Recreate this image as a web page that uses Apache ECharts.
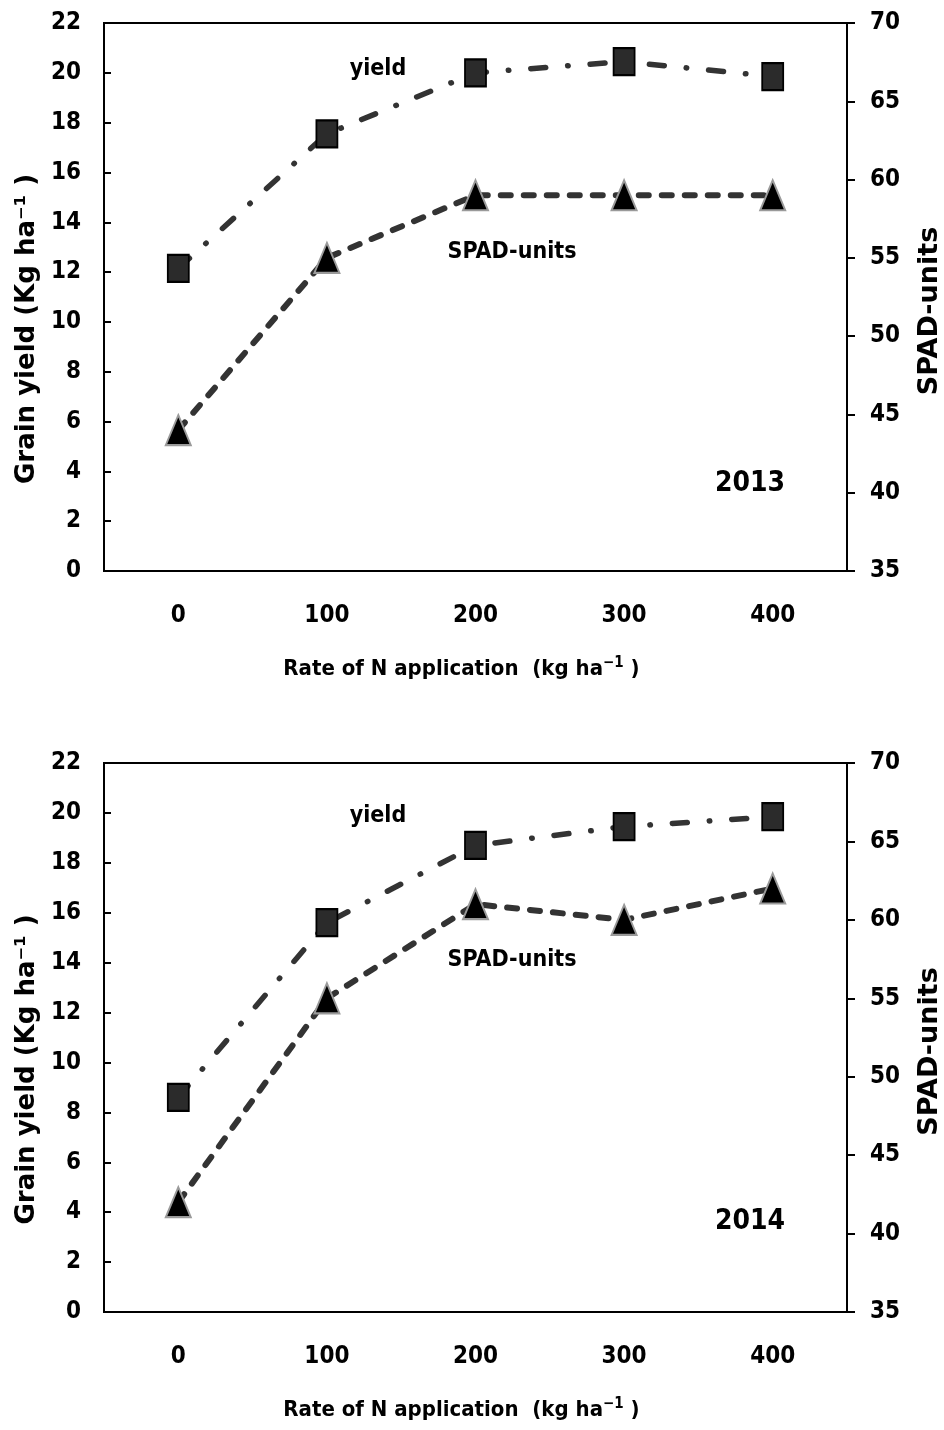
<!DOCTYPE html>
<html>
<head>
<meta charset="utf-8">
<script src="https://cdn.jsdelivr.net/npm/echarts@6/dist/echarts.min.js"></script>
<style>
  html, body { margin: 0; padding: 0; background: #fff; }
  #main { width: 944px; height: 1430px; }
</style>
</head>
<body>
<div id="main"></div>
<script>
// N rates (kg/ha)
var rates = ['0', '100', '200', '300', '400'];

// 2013
var yield2013 = [12.15, 17.55, 20.0, 20.45, 19.85];
var spad2013 = [44.0, 55.0, 59.0, 59.0, 59.0];

// 2014
var yield2014 = [8.6, 15.6, 18.7, 19.45, 19.85];
var spad2014 = [42.0, 55.0, 61.0, 60.0, 62.0];

var font = '"Liberation Sans Narrow", "DejaVu Sans Condensed", sans-serif';
var boldFont = '"DejaVu Sans", Verdana, sans-serif';
var lineColor = '#333';

var chart = echarts.init(document.getElementById('main'));

// one panel = grid + x axis + two y axes
var grids = [
  { left: 104, right: 97, top: 23, height: 548 },
  { left: 104, right: 97, top: 763, height: 549 }
];

function xAxisFor(i) {
  return {
    type: 'category', gridIndex: i, data: rates, boundaryGap: true,
    axisLine: { lineStyle: { color: '#000', width: 2 } },
    axisTick: { inside: true, alignWithLabel: true, length: 7, lineStyle: { color: '#000', width: 2 } },
    axisLabel: { margin: 33, color: '#000', fontFamily: font, fontSize: 24, fontWeight: 'bold' },
    name: '{a|Rate of N application  (kg ha}{s|−1}{a| )}',
    nameLocation: 'middle', nameGap: 85,
    nameTextStyle: {
      padding: [0, 28, 0, 0],
      rich: {
        a: { fontFamily: font, fontSize: 22, fontWeight: 'bold', color: '#000' },
        s: { fontFamily: font, fontSize: 15, fontWeight: 'bold', color: '#000', verticalAlign: 'top', padding: [0, 0, 11, 0] }
      }
    }
  };
}

function leftAxisFor(i) {
  return {
    type: 'value', gridIndex: i, position: 'left', min: 0, max: 22, interval: 2,
    axisLine: { show: true, lineStyle: { color: '#000', width: 2 } },
    axisTick: { show: true, inside: true, length: 7, lineStyle: { color: '#000', width: 2 } },
    splitLine: { show: false },
    axisLabel: { margin: 23, color: '#000', fontFamily: font, fontSize: 24, fontWeight: 'bold' },
    name: 'Grain yield (Kg ha⁻¹ )',
    nameLocation: 'middle', nameGap: 62, nameRotate: 90,
    nameTextStyle: { fontFamily: boldFont, fontWeight: 'bold', fontSize: 26, color: '#000', padding: [0, 64, 0, 0] }
  };
}

function rightAxisFor(i) {
  return {
    type: 'value', gridIndex: i, position: 'right', min: 35, max: 70, interval: 5,
    axisLine: { show: true, lineStyle: { color: '#000', width: 2 } },
    axisTick: { show: true, inside: false, length: 8, lineStyle: { color: '#000', width: 2 } },
    splitLine: { show: false },
    axisLabel: { margin: 23, color: '#000', fontFamily: font, fontSize: 24, fontWeight: 'bold' },
    name: 'SPAD-units',
    nameLocation: 'middle', nameGap: 69, nameRotate: 90,
    nameTextStyle: { fontFamily: boldFont, fontWeight: 'bold', fontSize: 27, color: '#000', padding: [0, 28, 0, 0] }
  };
}

function yieldSeries(i, data) {
  return {
    name: 'yield', type: 'line', xAxisIndex: i, yAxisIndex: i * 2, data: data,
    symbol: 'rect', symbolSize: [21, 27],
    itemStyle: { color: '#2b2b2b', borderColor: '#000', borderWidth: 2 },
    lineStyle: { color: lineColor, width: 5.5, type: [15, 22, 0.5, 22], cap: 'round' },
    z: 3
  };
}

function spadSeries(i, data) {
  return {
    name: 'SPAD-units', type: 'line', xAxisIndex: i, yAxisIndex: i * 2 + 1, data: data,
    symbol: 'triangle', symbolSize: [25, 30],
    itemStyle: { color: '#000', borderColor: '#9a9a9a', borderWidth: 2 },
    lineStyle: { color: lineColor, width: 6, type: [10, 13], cap: 'round' },
    z: 3
  };
}

function txt(x, y, s, size) {
  return {
    type: 'text', x: x, y: y,
    style: { text: s, fontFamily: font, fontSize: size, fontWeight: 'bold',
             fill: '#000', align: 'center', verticalAlign: 'middle' }
  };
}

chart.setOption({
  animation: false,
  backgroundColor: '#fff',
  grid: grids.map(function (g) {
    return Object.assign({
      show: true, borderColor: '#000', borderWidth: 2, backgroundColor: 'transparent',
      containLabel: false, outerBoundsMode: 'none'
    }, g);
  }),
  xAxis: [xAxisFor(0), xAxisFor(1)],
  yAxis: [leftAxisFor(0), rightAxisFor(0), leftAxisFor(1), rightAxisFor(1)],
  series: [
    yieldSeries(0, yield2013), spadSeries(0, spad2013),
    yieldSeries(1, yield2014), spadSeries(1, spad2014)
  ],
  graphic: [
    txt(378, 69, 'yield', 23),
    txt(512, 252, 'SPAD-units', 23),
    txt(750, 484, '2013', 28),
    txt(378, 816, 'yield', 23),
    txt(512, 960, 'SPAD-units', 23),
    txt(750, 1222, '2014', 28)
  ]
});
</script>
</body>
</html>
